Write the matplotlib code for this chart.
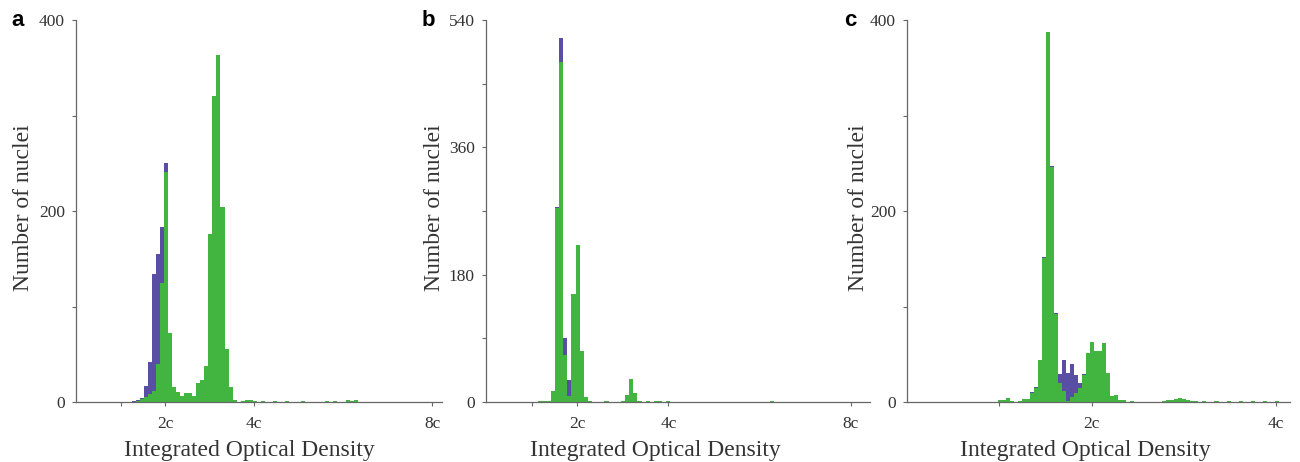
import numpy as np
import matplotlib.pyplot as plt

# colours
green = '#42b541'
blue = '#584ea3'
axis_col = '#666666'

# Panel a: bins of 0.0906c, first centre at 1.297c
a_start = 1.297 # [c]
a_width = 0.0906 # [c]
a_green = [0, 1, 3, 5, 8, 12, 40, 125, 241, 72, 16, 10, 6, 9, 9, 6, 20, 23, 38, 176,
           320, 363, 204, 56, 16, 2, 0, 1, 2, 2, 1, 0, 1, 0, 0, 1, 0, 0, 1, 0,
           0, 0, 1, 0, 0, 0, 0, 0, 1, 0, 1, 0, 0, 2, 1, 2]
a_blue = [1, 2, 4, 17, 42, 134, 155, 183, 250, 20, 3, 1, 0, 0, 0, 0, 0, 0, 0, 0,
          0, 0, 0, 0, 0, 0, 0, 0, 0, 0, 0, 0, 0, 0, 0, 0, 0, 0, 0, 0,
          0, 0, 0, 0, 0, 0, 0, 0, 0, 0, 0, 0, 0, 0, 0, 0]

# Panel b: bins of 0.0905c, first centre at 1.194c
b_start = 1.194 # [c]
b_width = 0.0905 # [c]
b_green = [1, 1, 1, 16, 274, 481, 67, 8, 153, 222, 72, 7, 2, 0, 0, 0, 1, 0, 0, 0,
           2, 10, 33, 13, 2, 0, 1, 0, 1, 1, 0, 1, 0, 0, 0, 0, 0, 0, 0, 0,
           0, 0, 0, 0, 0, 0, 0, 0, 0, 0, 0, 0, 0, 0, 0, 0, 1]
b_blue = [0, 0, 1, 10, 276, 515, 91, 31, 20, 5, 2, 0, 0, 0, 0, 0, 0, 0, 0, 0,
          0, 0, 0, 0, 0, 0, 0, 0, 0, 0, 0, 0, 0, 0, 0, 0, 0, 0, 0, 0,
          0, 0, 0, 0, 0, 0, 0, 0, 0, 0, 0, 0, 0, 0, 0, 0, 0]

# Panel c: bins of 0.0434c, first centre at 1.010c
c_start = 1.010 # [c]
c_width = 0.0434 # [c]
c_green = [2, 2, 4, 1, 0, 1, 3, 3, 9, 15, 44, 151, 387, 246, 92, 20, 12, 1, 5, 9,
           15, 28, 51, 63, 53, 53, 62, 30, 6, 7, 2, 2, 0, 1, 0, 0, 0, 0, 0, 0,
           0, 1, 2, 2, 3, 4, 3, 2, 1, 1, 0, 1, 0, 0, 1, 0, 0, 1, 0, 0,
           1, 0, 0, 1, 0, 0, 1, 0, 0, 1]
c_blue = [0, 0, 1, 0, 0, 0, 1, 2, 10, 16, 44, 152, 380, 247, 93, 29, 44, 30, 40, 28,
          20, 29, 20, 10, 5, 3, 2, 1, 0, 0, 0, 0, 0, 0, 0, 0, 0, 0, 0, 0,
          0, 0, 0, 0, 0, 0, 0, 0, 0, 0, 0, 0, 0, 0, 0, 0, 0, 0, 0, 0,
          0, 0, 0, 0, 0, 0, 0, 0, 0, 0]

panels = [
    # letter, start, width, green, blue, xlim, ymax, yticks, yminor, xticks, xlabels, rect, ylabel x, xlabel x
    ('a', a_start, a_width, a_green, a_blue, 8.22, 400, [0, 200, 400], [100, 300],
     [2, 4, 8], ['2c', '4c', '8c'], [76/1300, 60/462, 366/1300, 382/462], -0.115, 0.474),
    ('b', b_start, b_width, b_green, b_blue, 8.42, 540, [0, 180, 360, 540], [90, 270, 450],
     [2, 4, 8], ['2c', '4c', '8c'], [486/1300, 60/462, 384/1300, 382/462], -0.108, 0.44),
    ('c', c_start, c_width, c_green, c_blue, 4.15, 400, [0, 200, 400], [100, 300],
     [2, 4], ['2c', '4c'], [907/1300, 60/462, 383/1300, 382/462], -0.098, 0.465),
]
letter_x = [18, 428, 850]

fig = plt.figure(figsize=(13, 4.62), dpi=100)
serif = 'Liberation Serif'

for i, (letter, start, width, g, b, xmax, ymax, yt, ym, xt, xl, rect, ylx, xlx) in enumerate(panels):
    ax = fig.add_axes(rect)
    x = start + width * np.arange(len(g))
    # blue drawn first, green overlaid
    ax.bar(x, b, width=width, color=blue, linewidth=0)
    ax.bar(x, g, width=width, color=green, linewidth=0)

    ax.set_xlim(0, xmax)
    ax.set_ylim(0, ymax)
    ax.set_yticks(yt)
    ax.set_yticks(ym, minor=True)
    ax.set_xticks(xt)
    ax.set_xticklabels(xl)
    ax.set_xticks([1], minor=True)
    for lab in ax.get_xticklabels() + ax.get_yticklabels():
        lab.set_fontfamily(serif)
    ax.tick_params(which='both', direction='out', length=3, width=0.8, color=axis_col,
                   labelsize=12.5, labelcolor='#333333')
    ax.tick_params(axis='x', pad=7)
    ax.tick_params(axis='y', pad=5)

    for s in ['top', 'right']:
        ax.spines[s].set_visible(False)
    for s in ['left', 'bottom']:
        ax.spines[s].set_color(axis_col)
        ax.spines[s].set_linewidth(0.9)

    ax.set_ylabel('Number of nuclei', fontsize=17, family=serif, color='#333333')
    ax.yaxis.set_label_coords(ylx, 0.51)
    ax.set_xlabel('Integrated Optical Density', fontsize=17, family=serif, color='#333333')
    ax.xaxis.set_label_coords(xlx, -0.1)

    fig.text(letter_x[i] / 1300, 1 - 20 / 462, letter, fontsize=16, fontweight='bold',
             family='Liberation Sans', ha='center', va='center')

plt.savefig('out.png', dpi=100)
